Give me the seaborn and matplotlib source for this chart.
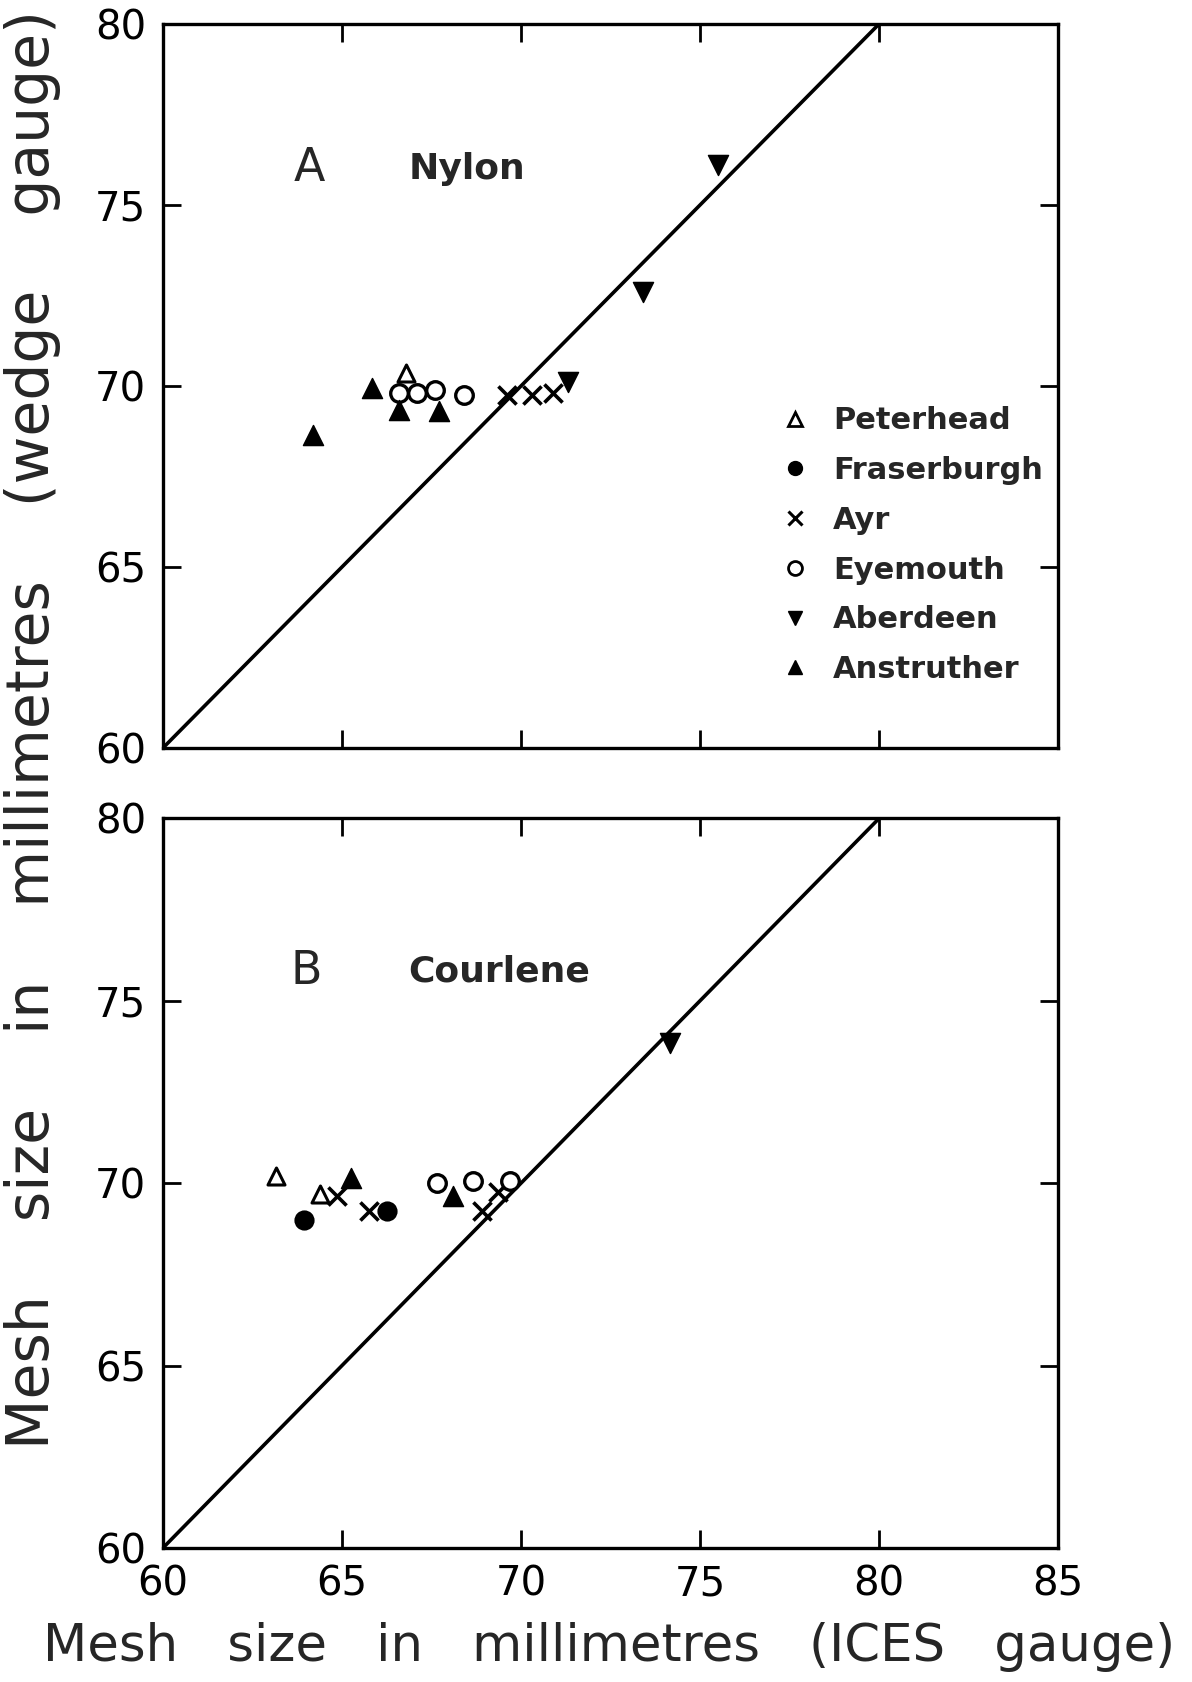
import numpy as np
import pandas as pd
import matplotlib
matplotlib.use("Agg")
import matplotlib.pyplot as plt
from matplotlib.lines import Line2D
import seaborn as sns

# ---------------- data ----------------
ports = ["Peterhead", "Fraserburgh", "Ayr", "Eyemouth", "Aberdeen", "Anstruther"]

# Panel A: Nylon  (ICES gauge x, wedge gauge y)
a_peterhead_x = [66.8]
a_peterhead_y = [70.35]
a_fraserburgh_x = []
a_fraserburgh_y = []
a_ayr_x = [69.6, 70.3, 70.9]
a_ayr_y = [69.75, 69.75, 69.8]
a_eyemouth_x = [66.6, 67.1, 67.6, 68.4]
a_eyemouth_y = [69.8, 69.8, 69.9, 69.75]
a_aberdeen_x = [71.3, 73.4, 75.5]
a_aberdeen_y = [70.1, 72.6, 76.1]
a_anstruther_x = [64.2, 65.85, 66.6, 67.7]
a_anstruther_y = [68.65, 69.95, 69.35, 69.3]

# Panel B: Courlene
b_peterhead_x = [63.15, 64.4]
b_peterhead_y = [70.2, 69.7]
b_fraserburgh_x = [63.95, 66.25]
b_fraserburgh_y = [69.0, 69.25]
b_ayr_x = [64.85, 65.75, 68.9, 69.35]
b_ayr_y = [69.65, 69.25, 69.25, 69.75]
b_eyemouth_x = [67.65, 68.65, 69.7]
b_eyemouth_y = [70.0, 70.05, 70.05]
b_aberdeen_x = [74.15]
b_aberdeen_y = [73.85]
b_anstruther_x = [65.25, 68.1]
b_anstruther_y = [70.15, 69.65]

identity_line = [60, 80]
x_ticks = [60, 65, 70, 75, 80, 85]
y_ticks = [60, 65, 70, 75, 80]

panel_a = {
    "Peterhead": (a_peterhead_x, a_peterhead_y),
    "Fraserburgh": (a_fraserburgh_x, a_fraserburgh_y),
    "Ayr": (a_ayr_x, a_ayr_y),
    "Eyemouth": (a_eyemouth_x, a_eyemouth_y),
    "Aberdeen": (a_aberdeen_x, a_aberdeen_y),
    "Anstruther": (a_anstruther_x, a_anstruther_y),
}
panel_b = {
    "Peterhead": (b_peterhead_x, b_peterhead_y),
    "Fraserburgh": (b_fraserburgh_x, b_fraserburgh_y),
    "Ayr": (b_ayr_x, b_ayr_y),
    "Eyemouth": (b_eyemouth_x, b_eyemouth_y),
    "Aberdeen": (b_aberdeen_x, b_aberdeen_y),
    "Anstruther": (b_anstruther_x, b_anstruther_y),
}

# ---------------- styles ----------------
style = {
    "Peterhead":   dict(marker="^", fc="white", size=150, lw=2.2),
    "Fraserburgh": dict(marker="o", fc="black", size=170, lw=1.5),
    "Ayr":         dict(marker="x", fc="black", size=170, lw=2.6),
    "Eyemouth":    dict(marker="o", fc="white", size=160, lw=2.4),
    "Aberdeen":    dict(marker="v", fc="black", size=210, lw=1.0),
    "Anstruther":  dict(marker="^", fc="black", size=210, lw=1.0),
}

sns.set_style("ticks")
plt.rcParams["font.family"] = ["DejaVu Sans"]

fig = plt.figure(figsize=(11.92, 16.82), dpi=100)
ax_a = fig.add_axes([0.1367, 0.5553, 0.7509, 0.4304])
ax_b = fig.add_axes([0.1367, 0.0797, 0.7509, 0.4337])


def draw_panel(ax, data, show_xlabels):
    ax.plot(identity_line, identity_line, color="black", lw=2.6, zorder=1)
    for port in ports:
        xs, ys = data[port]
        if len(xs) == 0:
            continue
        df = pd.DataFrame({"x": xs, "y": ys})
        st = style[port]
        if st["marker"] == "x":
            sns.scatterplot(data=df, x="x", y="y", ax=ax, marker="x",
                            color="black", s=st["size"], linewidth=st["lw"],
                            zorder=3, legend=False)
        else:
            sns.scatterplot(data=df, x="x", y="y", ax=ax, marker=st["marker"],
                            facecolor=st["fc"], edgecolor="black",
                            s=st["size"], linewidth=st["lw"], zorder=3,
                            legend=False)
    ax.set_xlim(60, 85)
    ax.set_ylim(60, 80)
    ax.set_xticks(x_ticks)
    ax.set_yticks(y_ticks)
    ax.set_xlabel("")
    ax.set_ylabel("")
    for sp in ax.spines.values():
        sp.set_linewidth(2.4)
        sp.set_color("black")
    ax.tick_params(direction="in", length=13, width=2.0, top=True, right=True,
                   labelsize=29, pad=12, colors="black")
    if not show_xlabels:
        ax.tick_params(labelbottom=False)


draw_panel(ax_a, panel_a, False)
draw_panel(ax_b, panel_b, True)

ax_a.text(64.1, 76.0, "A", fontsize=33, ha="center", va="center")
ax_a.text(68.5, 76.0, "Nylon", fontsize=26, fontweight="bold",
          ha="center", va="center")
ax_b.text(64.0, 75.8, "B", fontsize=33, ha="center", va="center")
ax_b.text(69.4, 75.8, "Courlene", fontsize=26, fontweight="bold",
          ha="center", va="center")

# legend
handles = []
for port in ports:
    st = style[port]
    if st["marker"] == "x":
        h = Line2D([], [], marker="x", linestyle="none", color="black",
                   markersize=10, markeredgewidth=2.2)
    else:
        h = Line2D([], [], marker=st["marker"], linestyle="none",
                   markerfacecolor=st["fc"], markeredgecolor="black",
                   markersize=10, markeredgewidth=2.0 if st["fc"] == "white" else 1.0)
    handles.append(h)
ax_a.legend(handles, ports, loc="upper left", bbox_to_anchor=(0.689, 0.472),
            frameon=False, prop={"size": 22, "weight": "bold"},
            handlelength=1.0, handletextpad=0.75,
            labelspacing=0.68, borderpad=0, borderaxespad=0)

fig.text(0.027, 0.566,
         "Mesh    size    in    millimetres    (wedge    gauge)",
         rotation=90, fontsize=42, ha="center", va="center")
fig.text(0.511, 0.0208, "Mesh   size   in   millimetres   (ICES   gauge)",
         fontsize=37, ha="center", va="center")

fig.savefig("out.png", dpi=100, facecolor="white")
